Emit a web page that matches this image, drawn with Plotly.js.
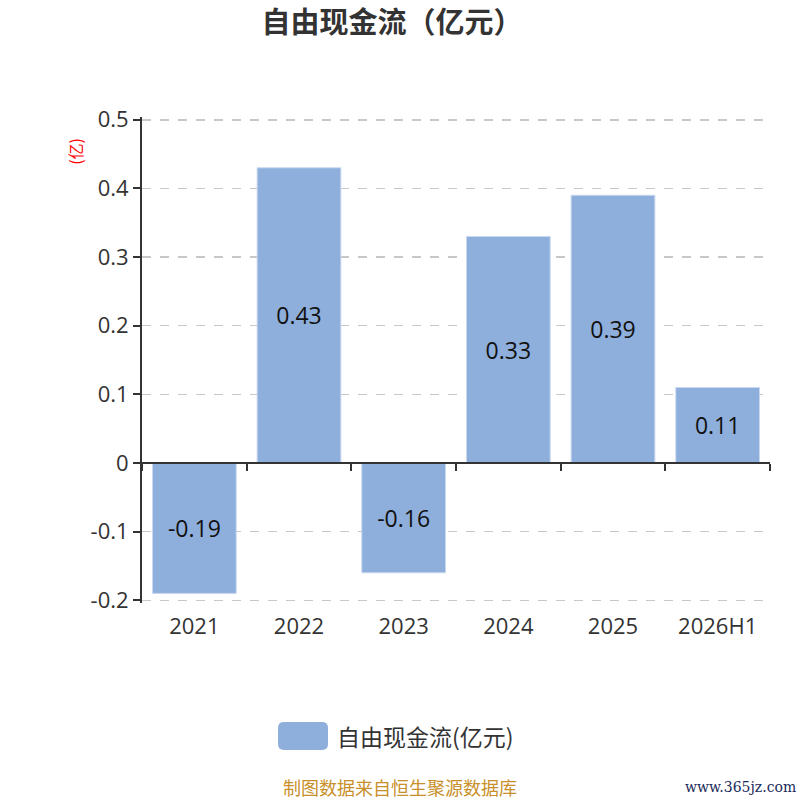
<!DOCTYPE html>
<html>
<head>
<meta charset="utf-8">
<script src="https://cdn.plot.ly/plotly-3.0.1.min.js"></script>
<style>
  html, body { margin: 0; padding: 0; background: #fff; }
  #chart { width: 800px; height: 800px; }
</style>
</head>
<body>
<div id="chart"></div>
<script>
var years = ['2021', '2022', '2023', '2024', '2025', '2026H1'];
var fcf = [-0.19, 0.43, -0.16, 0.33, 0.39, 0.11];
var yTicks = [-0.2, -0.1, 0, 0.1, 0.2, 0.3, 0.4, 0.5];
var yTickText = ['-0.2', '-0.1', '0', '0.1', '0.2', '0.3', '0.4', '0.5'];
var seriesName = '自由现金流(亿元)';
var barColor = '#8eaedb';

var font = '"Open Sans", "Noto Sans CJK SC", sans-serif';
var cjk = '"Noto Sans CJK SC", "Open Sans", sans-serif';
var yMin = -0.2, yMax = 0.5;
var pad = 0.004;   // keeps the edge grid lines visible

var bars = {
  x: years,
  y: fcf,
  type: 'bar',
  name: seriesName,
  showlegend: false,
  marker: { color: barColor, line: { color: '#c9d8ee', width: 1 } },
  text: fcf.map(function (v) { return v.toFixed(2); }),
  textposition: 'inside',
  insidetextanchor: 'middle',
  textfont: { family: font, size: 23, color: '#111' },
  hoverinfo: 'x+y'
};

// invisible trace that carries the axis drawn at y = 0
var zeroAxis = {
  x: years,
  y: fcf,
  type: 'scatter',
  mode: 'none',
  xaxis: 'x2',
  showlegend: false,
  hoverinfo: 'skip'
};

var layout = {
  width: 800,
  height: 800,
  margin: { l: 142, r: 30, t: 117, b: 197 },
  paper_bgcolor: '#fff',
  plot_bgcolor: '#fff',
  title: {
    text: '自由现金流（亿元）',
    font: { family: cjk, size: 29, color: '#333', weight: 'bold' },
    x: 0.49, xanchor: 'center',
    y: 0.971, yanchor: 'middle'
  },
  bargap: 0.2,
  xaxis: {
    type: 'category',
    showline: false,
    showgrid: false,
    zeroline: false,
    ticks: '',
    tickfont: { family: font, size: 22, color: '#333' },
    ticklabelstandoff: 8
  },
  xaxis2: {
    type: 'category',
    overlaying: 'x',
    matches: 'x',
    anchor: 'free',
    position: (0 - (yMin - pad)) / (yMax - yMin + 2 * pad),
    showline: true,
    linecolor: '#333',
    linewidth: 2,
    ticks: 'outside',
    tickson: 'boundaries',
    ticklen: 7,
    tickwidth: 2,
    tickcolor: '#333',
    showticklabels: false,
    showgrid: false,
    zeroline: false
  },
  yaxis: {
    range: [yMin - pad, yMax + pad],
    tickvals: yTicks,
    ticktext: yTickText,
    showline: true,
    linecolor: '#333',
    linewidth: 2,
    ticks: 'outside',
    ticklen: 7,
    tickwidth: 2,
    tickcolor: '#333',
    tickfont: { family: font, size: 22, color: '#333' },
    showgrid: true,
    gridcolor: '#c8c8c8',
    griddash: 'dash',
    gridwidth: 1.5,
    zeroline: false
  },
  showlegend: false,
  shapes: [
    {
      type: 'path',
      xref: 'paper', yref: 'paper',
      // rounded legend swatch
      path: 'M 0.2262 -0.2449 L 0.2866 -0.2449 Q 0.2962 -0.2449 0.2962 -0.2572 ' +
            'L 0.2962 -0.2902 Q 0.2962 -0.3025 0.2866 -0.3025 L 0.2262 -0.3025 ' +
            'Q 0.2166 -0.3025 0.2166 -0.2902 L 0.2166 -0.2572 Q 0.2166 -0.2449 0.2262 -0.2449 Z',
      fillcolor: barColor,
      line: { width: 0 }
    }
  ],
  annotations: [
    {
      text: seriesName,
      xref: 'paper', yref: 'paper',
      x: 0.307, y: -0.274,
      xanchor: 'left', yanchor: 'middle',
      showarrow: false,
      font: { family: cjk, size: 23, color: '#333' }
    },
    {
      text: '(亿)',
      xref: 'paper', yref: 'paper',
      x: -0.107, y: 0.93,
      xanchor: 'center', yanchor: 'middle',
      textangle: -90,
      showarrow: false,
      font: { family: cjk, size: 16, color: '#ff0000' }
    },
    {
      text: '制图数据来自恒生聚源数据库',
      xref: 'paper', yref: 'paper',
      x: 0.411, y: -0.379,
      xanchor: 'center', yanchor: 'middle',
      showarrow: false,
      font: { family: cjk, size: 18, color: '#c8902a' }
    },
    {
      text: 'www.365jz.com',
      xref: 'paper', yref: 'paper',
      x: 1.045, y: -0.379,
      xanchor: 'right', yanchor: 'middle',
      showarrow: false,
      font: { family: '"DejaVu Serif", serif', size: 14, color: '#1a2a5a' }
    }
  ]
};

Plotly.newPlot('chart', [bars, zeroAxis], layout, { displayModeBar: false, staticPlot: true });
</script>
</body>
</html>
